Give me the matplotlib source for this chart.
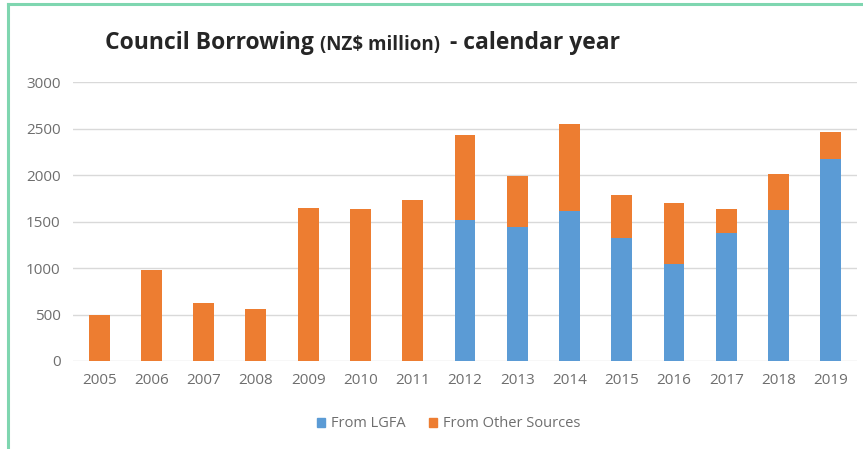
import numpy as np
import matplotlib.pyplot as plt
from matplotlib.lines import Line2D
from matplotlib.patches import Patch

years = ["2005", "2006", "2007", "2008", "2009", "2010", "2011", "2012",
         "2013", "2014", "2015", "2016", "2017", "2018", "2019"]
lgfa = [0, 0, 0, 0, 0, 0, 0, 1520, 1440, 1610, 1320, 1040, 1380, 1620, 2170]
totals = [500, 980, 620, 555, 1645, 1635, 1730, 2430, 1990, 2550, 1785, 1705, 1630, 2015, 2465]
other = [t - l for t, l in zip(totals, lgfa)]

blue = "#5b9bd5"
orange = "#ed7d31"
grey_txt = "#6e6e6e"

plt.rcParams['font.family'] = ['Open Sans', 'DejaVu Sans']

fig = plt.figure(figsize=(8.63, 4.49), dpi=100)
ax = fig.add_axes([0.0846, 0.196, 0.9084, 0.621])

x = np.arange(len(years))
ax.bar(x, lgfa, width=0.4, color=blue, zorder=3)
ax.bar(x, other, width=0.4, bottom=lgfa, color=orange, zorder=3)

ax.set_xlim(-0.5, len(years) - 0.5)
ax.set_ylim(0, 3000)
ax.set_yticks(range(0, 3001, 500))
ax.set_xticks(x)
ax.set_xticklabels(years)
ax.tick_params(axis='both', length=0, labelsize=11, colors=grey_txt)
ax.tick_params(axis='x', pad=9)
ax.tick_params(axis='y', pad=9)
ax.grid(axis='y', color="#d9d9d9", linewidth=1, zorder=0)
for s in ax.spines.values():
    s.set_visible(False)

# title in pieces: big bold, smaller bold, big bold
t1 = fig.text(0.122, 0.905, "Council Borrowing ", fontsize=16.5, fontweight='bold',
              color="#262626", va='center')
fig.canvas.draw()
r = fig.canvas.get_renderer()
bb = t1.get_window_extent(r)
t2 = fig.text(bb.x1 / fig.bbox.width, 0.9, "(NZ$ million)  ", fontsize=13.5,
              fontweight='bold', color="#262626", va='center')
bb2 = t2.get_window_extent(r)
fig.text(bb2.x1 / fig.bbox.width, 0.905, "- calendar year", fontsize=16.5,
         fontweight='bold', color="#262626", va='center')

handles = [Patch(color=blue), Patch(color=orange)]
fig.legend(handles, ["From LGFA", "From Other Sources"], loc='center',
           bbox_to_anchor=(0.52, 0.056), ncol=2, frameon=False, fontsize=10.5,
           handlelength=0.55, handleheight=0.55, handletextpad=0.4, columnspacing=1.6,
           labelcolor=grey_txt)

# mint frame on left and top
fig.add_artist(Line2D([0.0093, 0.0093], [0, 0.99], color="#7fd6b0", linewidth=2.2))
fig.add_artist(Line2D([0.0093, 1.0], [0.99, 0.99], color="#7fd6b0", linewidth=2.2))

fig.savefig("out.png", dpi=100)
